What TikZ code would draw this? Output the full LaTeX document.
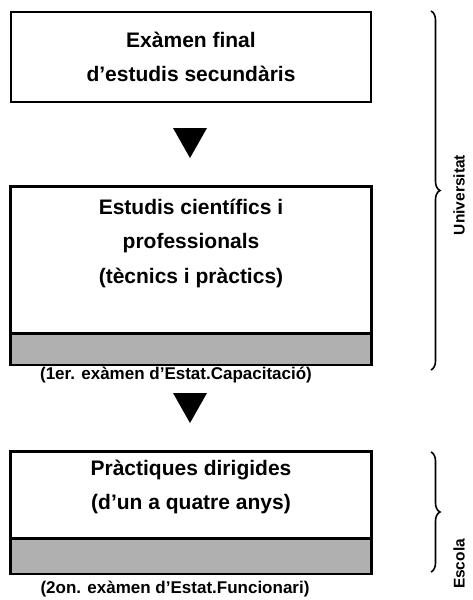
\documentclass[tikz,border=0pt]{standalone}
\usepackage{fontspec}
\setmainfont{Liberation Sans}
\usetikzlibrary{positioning,decorations.pathreplacing}

\begin{document}
\begin{tikzpicture}[x=1pt, y=-1pt]
            \tikzset{frame/.style={draw, line width=1.3pt, minimum width=360pt, inner sep=0pt},
                     band/.style={frame, fill=gray!62},
                     outline/.style={draw, line width=2.6pt},
                     boxtext/.style={align=center, font=\bfseries\fontsize{21}{34.5}\selectfont},
                     note/.style={font=\bfseries\fontsize{17}{20}\selectfont, inner sep=0pt},
                     side/.style={rotate=90, font=\bfseries\fontsize{15.5}{18}\selectfont, inner sep=0pt},
                     stage/.style={decorate, decoration={brace, amplitude=9pt}, line width=1.6pt}}
            \useasboundingbox (0,0) rectangle (473,600);

            % first exam
            \node[frame, line width=2.6pt, minimum height=90pt, boxtext] (final) at (191,57) {Exàmen final\\d’estudis secundàris};

            \coordinate (arrowA) at (190,128);
            \fill (arrowA) ++(-17,0) -- ++(34,0) -- ++(-17,30) -- cycle;

            % university studies
            \node[frame, minimum height=146pt] (estudis) at (191,260) {};
            \node[band, minimum height=30pt, anchor=north] (capband) at (estudis.south) {};
            \draw[outline] (estudis.north west) rectangle (capband.south east);
            \node[boxtext] (estuditxt) at (191,243) {Estudis científics i\\professionals\\(tècnics i pràctics)};
            \node[note] (cap) at (176,375) {(1er. exàmen d’Estat.Capacitació)};

            \coordinate (arrowB) at (190,393);
            \fill (arrowB) ++(-17,0) -- ++(34,0) -- ++(-17,30) -- cycle;

            % school practice
            \node[frame, minimum height=86pt] (practiques) at (191,495) {};
            \node[band, minimum height=34pt, anchor=north] (funband) at (practiques.south) {};
            \draw[outline] (practiques.north west) rectangle (funband.south east);
            \node[boxtext] (practxt) at (191,487) {Pràctiques dirigides\\(d’un a quatre anys)};
            \node[note] (fun) at (175,589) {(2on. exàmen d’Estat.Funcionari)};

            % braces
            \coordinate (univtop) at (431,11);
            \coordinate (univbot) at (431,370);
            \draw[stage] (univtop) -- (univbot);
            \node[side] (univ) at (459,195) {Universitat};

            \coordinate (escotop) at (431,452);
            \coordinate (escobot) at (431,572);
            \draw[stage] (escotop) -- (escobot);
            \node[side] (escola) at (459,564) {Escola};
\end{tikzpicture}
\end{document}
